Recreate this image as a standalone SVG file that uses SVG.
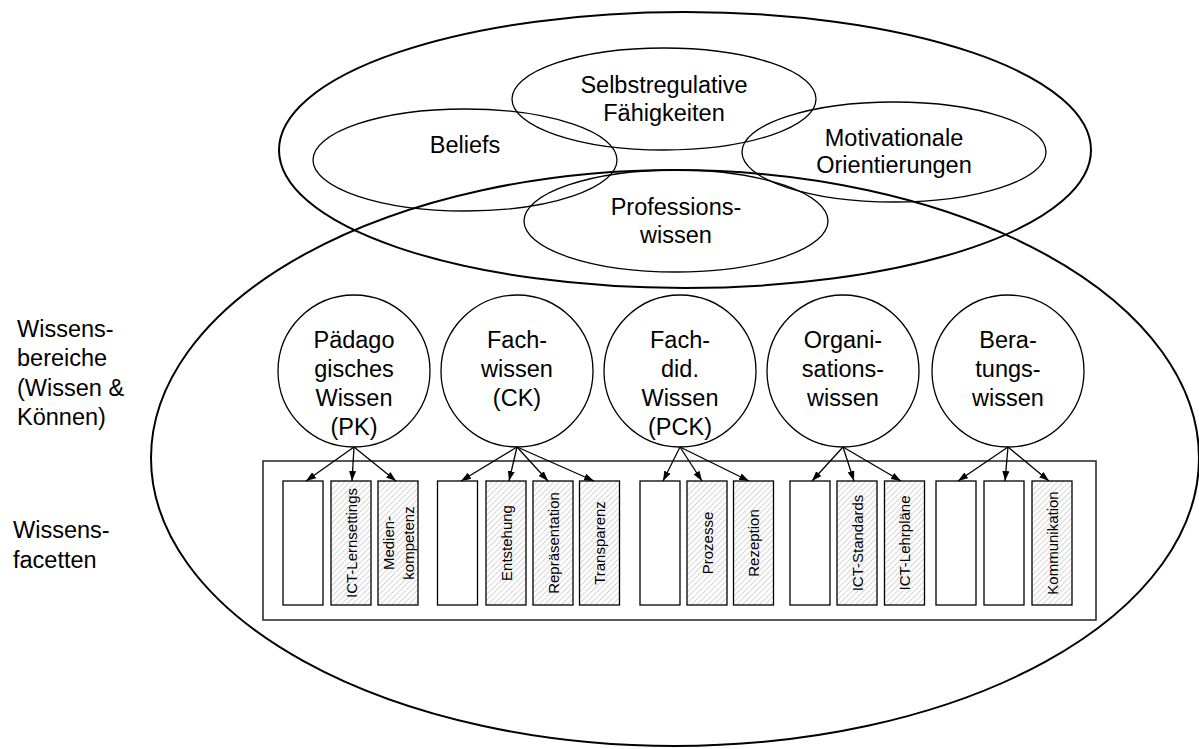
<svg xmlns="http://www.w3.org/2000/svg" width="1199" height="749" viewBox="0 0 1199 749">
<defs>
<style>
.t{font-family:"Liberation Sans",Arial,sans-serif;font-size:23.5px;fill:#000;text-anchor:middle}
.lt{font-family:"Liberation Sans",Arial,sans-serif;font-size:23.5px;fill:#000}
.ft{font-family:"Liberation Sans",Arial,sans-serif;font-size:15px;fill:#000;text-anchor:middle}
.big{fill:none;stroke:#000;stroke-width:2}
.sm{fill:none;stroke:#000;stroke-width:1.3}
.box{fill:#fff;stroke:#000;stroke-width:1.3}
.hbox{fill:url(#hatch);stroke:#000;stroke-width:1.3}
.arr{fill:none;stroke:#000;stroke-width:1.3;marker-end:url(#ah)}
</style>
<pattern id="hatch" patternUnits="userSpaceOnUse" width="4" height="4" patternTransform="rotate(45)">
<rect width="4" height="4" fill="#fff"/>
<line x1="0" y1="0" x2="0" y2="4" stroke="#999" stroke-width="0.8"/>
</pattern>
<marker id="ah" markerWidth="10" markerHeight="8" refX="10" refY="3.5" orient="auto" markerUnits="userSpaceOnUse">
<path d="M0,0 L10,3.5 L0,7 Z" fill="#000"/>
</marker>
</defs>
<rect width="1199" height="749" fill="#fff"/>

<g id="outer-top"><ellipse class="big" cx="685" cy="150" rx="406" ry="138"/></g>
<g id="outer-bottom"><ellipse class="big" cx="675" cy="458" rx="524" ry="288"/></g>

<g id="selbstregulative">
<ellipse class="sm" cx="664" cy="99" rx="152" ry="51"/>
<text class="t" x="664" y="93">Selbstregulative</text>
<text class="t" x="664" y="121">Fähigkeiten</text>
</g>
<g id="beliefs">
<ellipse class="sm" cx="465" cy="160" rx="152" ry="51"/>
<text class="t" x="465" y="153">Beliefs</text>
</g>
<g id="motivationale">
<ellipse class="sm" cx="894" cy="152" rx="152" ry="50"/>
<text class="t" x="894" y="146">Motivationale</text>
<text class="t" x="894" y="173">Orientierungen</text>
</g>
<g id="professionswissen">
<ellipse class="sm" cx="676" cy="221" rx="152" ry="51"/>
<text class="t" x="676" y="215">Professions-</text>
<text class="t" x="676" y="243">wissen</text>
</g>

<g id="label-bereiche">
<text class="lt" x="17" y="337">Wissens-</text>
<text class="lt" x="17" y="366">bereiche</text>
<text class="lt" x="17" y="396">(Wissen &amp;</text>
<text class="lt" x="17" y="425">Können)</text>
</g>
<g id="label-facetten">
<text class="lt" x="13" y="538">Wissens-</text>
<text class="lt" x="13" y="568">facetten</text>
</g>

<g id="pk">
<circle class="sm" cx="354" cy="371" r="76"/>
<text class="t" x="354" y="348">Pädago</text>
<text class="t" x="354" y="377">gisches</text>
<text class="t" x="354" y="406">Wissen</text>
<text class="t" x="354" y="435">(PK)</text>
</g>
<g id="ck">
<circle class="sm" cx="517" cy="371" r="76"/>
<text class="t" x="517" y="348">Fach-</text>
<text class="t" x="517" y="377">wissen</text>
<text class="t" x="517" y="406">(CK)</text>
</g>
<g id="pck">
<circle class="sm" cx="680" cy="371" r="76"/>
<text class="t" x="680" y="348">Fach-</text>
<text class="t" x="680" y="377">did.</text>
<text class="t" x="680" y="406">Wissen</text>
<text class="t" x="680" y="435">(PCK)</text>
</g>
<g id="organisation">
<circle class="sm" cx="843" cy="371" r="76"/>
<text class="t" x="843" y="348">Organi-</text>
<text class="t" x="843" y="377">sations-</text>
<text class="t" x="843" y="406">wissen</text>
</g>
<g id="beratung">
<circle class="sm" cx="1008" cy="371" r="76"/>
<text class="t" x="1008" y="348">Bera-</text>
<text class="t" x="1008" y="377">tungs-</text>
<text class="t" x="1008" y="406">wissen</text>
</g>

<g id="facetten-container"><rect x="263" y="461" width="833" height="159" fill="none" stroke="#222" stroke-width="1.5"/></g>

<g id="facets-pk">
<rect class="box" x="283" y="481" width="40" height="124"/>
<rect class="hbox" x="331" y="481" width="40" height="124"/>
<text class="ft" transform="translate(356.5,543) rotate(-90)">ICT-Lernsettings</text>
<rect class="hbox" x="378" y="481" width="40" height="124"/>
<text class="ft" transform="translate(393.5,543) rotate(-90)">Medien-</text>
<text class="ft" transform="translate(413.5,543) rotate(-90)">kompetenz</text>
</g>
<g id="facets-ck">
<rect class="box" x="437.5" y="481" width="40" height="124"/>
<rect class="hbox" x="486" y="481" width="40" height="124"/>
<text class="ft" transform="translate(511.5,543) rotate(-90)">Entstehung</text>
<rect class="hbox" x="533" y="481" width="40" height="124"/>
<text class="ft" transform="translate(558.5,543) rotate(-90)">Repräsentation</text>
<rect class="hbox" x="579.5" y="481" width="40" height="124"/>
<text class="ft" transform="translate(605,543) rotate(-90)">Transparenz</text>
</g>
<g id="facets-pck">
<rect class="box" x="640" y="481" width="40" height="124"/>
<rect class="hbox" x="687" y="481" width="40" height="124"/>
<text class="ft" transform="translate(712.5,543) rotate(-90)">Prozesse</text>
<rect class="hbox" x="733.5" y="481" width="40" height="124"/>
<text class="ft" transform="translate(759,543) rotate(-90)">Rezeption</text>
</g>
<g id="facets-org">
<rect class="box" x="790" y="481" width="40" height="124"/>
<rect class="hbox" x="837" y="481" width="40" height="124"/>
<text class="ft" transform="translate(862.5,543) rotate(-90)">ICT-Standards</text>
<rect class="hbox" x="884.5" y="481" width="40" height="124"/>
<text class="ft" transform="translate(910,543) rotate(-90)">ICT-Lehrpläne</text>
</g>
<g id="facets-ber">
<rect class="box" x="936" y="481" width="40" height="124"/>
<rect class="box" x="984" y="481" width="40" height="124"/>
<rect class="hbox" x="1032" y="481" width="40" height="124"/>
<text class="ft" transform="translate(1057.5,543) rotate(-90)">Kommunikation</text>
</g>

<g id="connectors">
<line class="arr" x1="354" y1="447" x2="306" y2="481"/>
<line class="arr" x1="354" y1="447" x2="352" y2="481"/>
<line class="arr" x1="354" y1="447" x2="396" y2="481"/>
<line class="arr" x1="517" y1="447" x2="461" y2="481"/>
<line class="arr" x1="517" y1="447" x2="509" y2="481"/>
<line class="arr" x1="517" y1="447" x2="548" y2="481"/>
<line class="arr" x1="517" y1="447" x2="594" y2="481"/>
<line class="arr" x1="680" y1="447" x2="663" y2="481"/>
<line class="arr" x1="680" y1="447" x2="702" y2="481"/>
<line class="arr" x1="680" y1="447" x2="749" y2="481"/>
<line class="arr" x1="843" y1="447" x2="812" y2="481"/>
<line class="arr" x1="843" y1="447" x2="854" y2="481"/>
<line class="arr" x1="843" y1="447" x2="901" y2="481"/>
<line class="arr" x1="1008" y1="447" x2="958" y2="481"/>
<line class="arr" x1="1008" y1="447" x2="1005" y2="481"/>
<line class="arr" x1="1008" y1="447" x2="1049" y2="481"/>
</g>
</svg>
